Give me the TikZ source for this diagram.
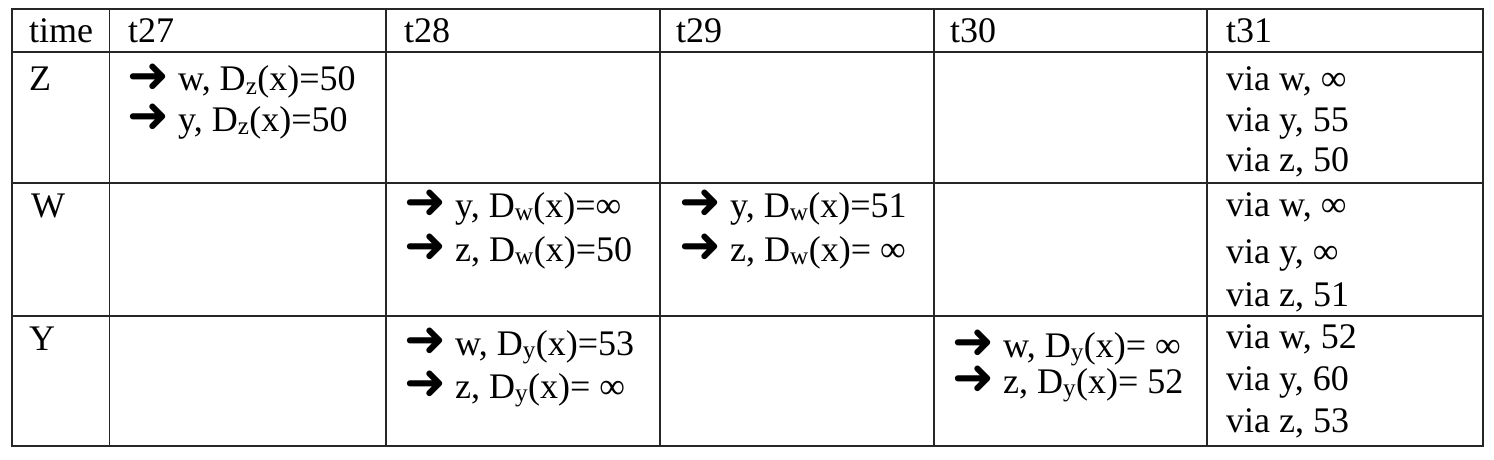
\documentclass[tikz,border=0pt]{standalone}
\usepackage{fontspec}
\setmainfont{Liberation Serif}
\newfontfamily\arrowfont{DejaVu Sans}
\newcommand\arw{\smash{\arrowfont\fontsize{50}{40}\selectfont\raisebox{-1.5pt}{➜}}}
\begin{document}
\begin{tikzpicture}[x=1pt,y=-1pt,
  cell/.style={anchor=base west, inner sep=0pt, font=\fontsize{36}{40}\selectfont},
  grid/.style={line width=1.8pt, draw=black!85}]
\useasboundingbox (0,0) rectangle (1494,460);
% grid
\draw[grid] (12,9) rectangle (1483,446);
\foreach \x in {109.5,386,660,934,1207} \draw[grid] (\x,9) -- (\x,446);
\foreach \y in {52,183,316} \draw[grid] (12,\y) -- (1483,\y);
% header
\node[cell] (h0) at (29,43) {time};
\node[cell] (h1) at (128,43) {t27};
\node[cell] (h2) at (404,43) {t28};
\node[cell] (h3) at (676,43) {t29};
\node[cell] (h4) at (950,43) {t30};
\node[cell] (h5) at (1226,43) {t31};
% row labels
\node[cell] (rz) at (29,91) {Z};
\node[cell] (rw) at (31,217) {W};
\node[cell] (ry) at (29,350) {Y};
% Z row
\node[cell] (z1a) at (127,91) {\arw\ w, D\textsubscript{z}(x)=50};
\node[cell] (z1b) at (127,131) {\arw\ y, D\textsubscript{z}(x)=50};
\node[cell] (z5a) at (1226,90) {via w, ∞};
\node[cell] (z5b) at (1226,131) {via y, 55};
\node[cell] (z5c) at (1226,171) {via z, 50};
% W row
\node[cell] (w2a) at (404,217) {\arw\ y, D\textsubscript{w}(x)=∞};
\node[cell] (w2b) at (404,261) {\arw\ z, D\textsubscript{w}(x)=50};
\node[cell] (w3a) at (679,217) {\arw\ y, D\textsubscript{w}(x)=51};
\node[cell] (w3b) at (679,261) {\arw\ z, D\textsubscript{w}(x)= ∞};
\node[cell] (w5a) at (1226,216) {via w, ∞};
\node[cell] (w5b) at (1226,263) {via y, ∞};
\node[cell] (w5c) at (1226,306) {via z, 51};
% Y row
\node[cell] (y2a) at (404,355) {\arw\ w, D\textsubscript{y}(x)=53};
\node[cell] (y2b) at (404,398) {\arw\ z, D\textsubscript{y}(x)= ∞};
\node[cell] (y4a) at (952,357) {\arw\ w, D\textsubscript{y}(x)= ∞};
\node[cell] (y4b) at (952,393) {\arw\ z, D\textsubscript{y}(x)= 52};
\node[cell] (y5a) at (1226,348) {via w, 52};
\node[cell] (y5b) at (1226,390) {via y, 60};
\node[cell] (y5c) at (1226,432) {via z, 53};
\end{tikzpicture}
\end{document}
